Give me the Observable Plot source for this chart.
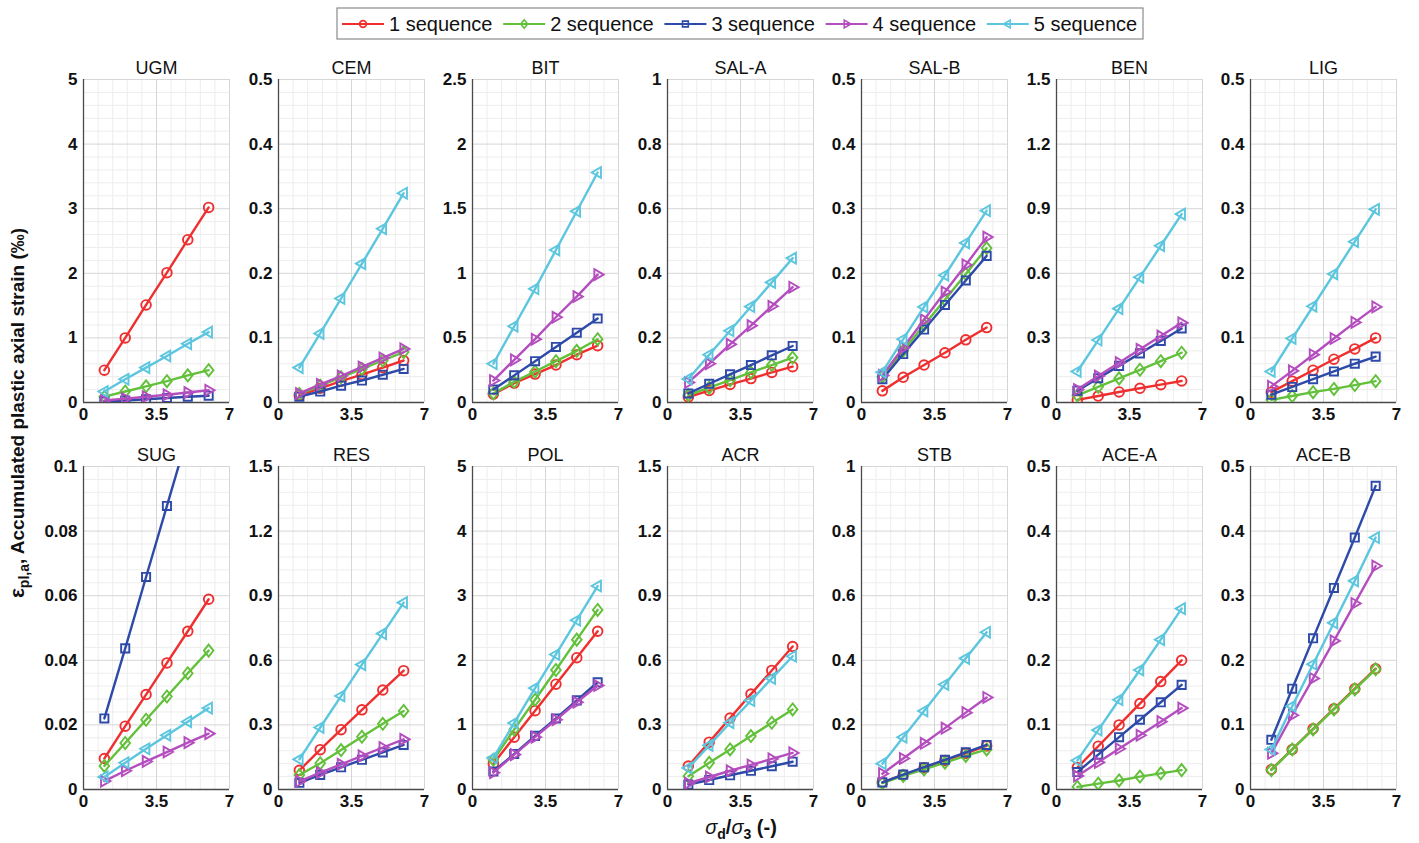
<!DOCTYPE html>
<html><head><meta charset="utf-8">
<script src="https://cdn.jsdelivr.net/npm/d3@7"></script>
<script src="https://cdn.jsdelivr.net/npm/@observablehq/plot@0.6"></script>
<style>
body{margin:0;background:#fff;}
#wrap{position:relative;width:1419px;height:843px;overflow:hidden;font-family:"Liberation Sans",Arial,sans-serif;}
.panel{position:absolute;}
.panel svg{overflow:visible;background:transparent;}
#overlay{position:absolute;left:0;top:0;pointer-events:none;}
</style></head><body><div id="wrap"></div>
<script>
// ---------- data ----------
const panelNames = ["UGM","CEM","BIT","SAL-A","SAL-B","BEN","LIG","SUG","RES","POL","ACR","STB","ACE-A","ACE-B"];
const seriesNames = ["1 sequence","2 sequence","3 sequence","4 sequence","5 sequence"];
const xValues = [1,2,3,4,5,6];
const xTickLabels = [0,3.5,7];
const yTickLabels = [
  [0,1,2,3,4,5],
  [0,0.1,0.2,0.3,0.4,0.5],
  [0,0.5,1,1.5,2,2.5],
  [0,0.2,0.4,0.6,0.8,1],
  [0,0.1,0.2,0.3,0.4,0.5],
  [0,0.3,0.6,0.9,1.2,1.5],
  [0,0.1,0.2,0.3,0.4,0.5],
  [0,0.02,0.04,0.06,0.08,0.1],
  [0,0.3,0.6,0.9,1.2,1.5],
  [0,1,2,3,4,5],
  [0,0.3,0.6,0.9,1.2,1.5],
  [0,0.2,0.4,0.6,0.8,1],
  [0,0.1,0.2,0.3,0.4,0.5],
  [0,0.1,0.2,0.3,0.4,0.5]
];
// each panel: [1 seq, 2 seq, 3 seq, 4 seq, 5 seq]
const UGM = [
  [0.50,1.00,1.51,2.01,2.52,3.02],
  [0.09,0.17,0.25,0.33,0.42,0.50],
  [0.015,0.03,0.05,0.07,0.09,0.105],
  [0.03,0.06,0.09,0.12,0.155,0.19],
  [0.17,0.36,0.54,0.72,0.91,1.09]
];
const CEM = [
  [0.011,0.022,0.033,0.043,0.054,0.065],
  [0.013,0.026,0.039,0.052,0.065,0.078],
  [0.009,0.017,0.026,0.034,0.043,0.052],
  [0.014,0.028,0.041,0.055,0.069,0.083],
  [0.054,0.107,0.161,0.215,0.269,0.324]
];
const BIT = [
  [0.065,0.15,0.22,0.29,0.37,0.44],
  [0.07,0.16,0.24,0.32,0.40,0.49],
  [0.10,0.21,0.32,0.43,0.54,0.65],
  [0.17,0.33,0.49,0.66,0.82,0.99],
  [0.30,0.59,0.88,1.18,1.48,1.78]
];
const SAL_A = [
  [0.017,0.037,0.056,0.074,0.093,0.111],
  [0.023,0.046,0.069,0.093,0.116,0.139],
  [0.028,0.058,0.087,0.116,0.146,0.175],
  [0.062,0.12,0.18,0.238,0.298,0.357],
  [0.073,0.148,0.222,0.297,0.372,0.447]
];
const SAL_B = [
  [0.018,0.039,0.058,0.077,0.097,0.116],
  [0.04,0.08,0.12,0.159,0.199,0.239],
  [0.036,0.075,0.113,0.151,0.189,0.227],
  [0.042,0.085,0.128,0.171,0.213,0.256],
  [0.047,0.098,0.148,0.197,0.247,0.297]
];
const BEN = [
  [0.012,0.03,0.049,0.066,0.083,0.10],
  [0.033,0.073,0.112,0.152,0.192,0.231],
  [0.055,0.113,0.17,0.228,0.286,0.344],
  [0.06,0.123,0.185,0.247,0.309,0.37],
  [0.144,0.29,0.436,0.582,0.728,0.875]
];
const LIG = [
  [0.016,0.033,0.05,0.067,0.083,0.10],
  [0.004,0.01,0.016,0.021,0.027,0.033],
  [0.012,0.024,0.036,0.048,0.06,0.071],
  [0.025,0.049,0.074,0.099,0.124,0.148],
  [0.048,0.099,0.149,0.199,0.249,0.299]
];
const SUG = [
  [0.0096,0.0196,0.0294,0.0392,0.049,0.0589],
  [0.0073,0.0144,0.0216,0.0288,0.036,0.043],
  [0.022,0.0437,0.0658,0.0878,0.1098,0.1318],
  [0.0026,0.0058,0.0087,0.0116,0.0145,0.0173],
  [0.0039,0.0083,0.0126,0.0168,0.021,0.0252]
];
const RES = [
  [0.089,0.185,0.278,0.37,0.462,0.552],
  [0.067,0.122,0.183,0.245,0.305,0.365],
  [0.031,0.068,0.103,0.138,0.172,0.207],
  [0.038,0.078,0.117,0.156,0.195,0.233],
  [0.14,0.288,0.434,0.58,0.724,0.868]
];
const POL = [
  [0.40,0.81,1.22,1.63,2.04,2.45],
  [0.46,0.93,1.39,1.85,2.32,2.78],
  [0.28,0.55,0.83,1.10,1.38,1.66],
  [0.26,0.54,0.81,1.08,1.35,1.61],
  [0.49,1.03,1.57,2.09,2.62,3.15]
];
const ACR = [
  [0.109,0.22,0.332,0.443,0.553,0.664],
  [0.062,0.124,0.186,0.248,0.31,0.372],
  [0.023,0.044,0.066,0.087,0.108,0.129],
  [0.029,0.058,0.087,0.114,0.142,0.17],
  [0.10,0.205,0.31,0.413,0.516,0.619]
];
const STB = [
  [0.022,0.045,0.067,0.09,0.112,0.135],
  [0.02,0.042,0.062,0.083,0.104,0.124],
  [0.022,0.046,0.069,0.092,0.115,0.138],
  [0.049,0.096,0.143,0.19,0.238,0.285],
  [0.08,0.162,0.243,0.325,0.406,0.487]
];
const ACE_A = [
  [0.034,0.067,0.10,0.133,0.167,0.20],
  [0.004,0.009,0.014,0.02,0.025,0.03],
  [0.027,0.054,0.081,0.108,0.135,0.162],
  [0.021,0.042,0.063,0.084,0.105,0.126],
  [0.045,0.092,0.139,0.185,0.232,0.28]
];
const ACE_B = [
  [0.031,0.062,0.094,0.125,0.156,0.187],
  [0.03,0.062,0.093,0.124,0.155,0.186],
  [0.077,0.156,0.234,0.312,0.39,0.47],
  [0.056,0.115,0.172,0.23,0.288,0.346],
  [0.062,0.129,0.194,0.258,0.323,0.39]
];
const panelValues = [UGM,CEM,BIT,SAL_A,SAL_B,BEN,LIG,SUG,RES,POL,ACR,STB,ACE_A,ACE_B];

// ---------- styles ----------
const colors = ["#ef2f2f","#62c03a","#2d4aa8","#b44dbe","#5cc6df"];
function rOf(size){ return Math.sqrt(size/Math.PI); }
const symCircle = {draw(c,s){const r=rOf(s); c.moveTo(r,0); c.arc(0,0,r,0,2*Math.PI); c.closePath();}};
const symDiamond = {draw(c,s){const r=rOf(s)*1.25; c.moveTo(0,-r); c.lineTo(r*0.8,0); c.lineTo(0,r); c.lineTo(-r*0.8,0); c.closePath();}};
const symSquare = {draw(c,s){const r=rOf(s)*0.85; c.moveTo(-r,-r); c.lineTo(r,-r); c.lineTo(r,r); c.lineTo(-r,r); c.closePath();}};
const symRight = {draw(c,s){const r=rOf(s)*1.25; c.moveTo(r,0); c.lineTo(-r*0.55,r*0.9); c.lineTo(-r*0.55,-r*0.9); c.closePath();}};
const symLeft = {draw(c,s){const r=rOf(s)*1.25; c.moveTo(-r,0); c.lineTo(r*0.55,r*0.9); c.lineTo(r*0.55,-r*0.9); c.closePath();}};
const symbols = [symCircle,symDiamond,symSquare,symRight,symLeft];

const wrap = document.getElementById("wrap");
const frameW = 146, frameH = 323;
const mL = 50, mR = 12, mT = 30, mB = 26;

function minorOf(ticks, n){
  const out = [];
  for (let i=0;i<ticks.length-1;i++){
    const a=ticks[i], b=ticks[i+1];
    for (let k=1;k<n;k++) out.push(a+(b-a)*k/n);
  }
  return out;
}

panelNames.forEach((name, p) => {
  const col = p % 7, row = Math.floor(p / 7);
  const left = 83 + col*194.5 - mL;
  const top = (row === 0 ? 79 : 466) - mT;
  const yt = yTickLabels[p];
  const rows = [];
  panelValues[p].forEach((vals, s) => vals.forEach((v, i) => rows.push({x: xValues[i], y: v, s})));
  const marks = [
    Plot.ruleX(minorOf(xTickLabels,5), {stroke:"#ededed", strokeWidth:1}),
    Plot.ruleY(minorOf(yt,5), {stroke:"#ededed", strokeWidth:1}),
    Plot.ruleX(xTickLabels, {stroke:"#d6d6d6", strokeWidth:1}),
    Plot.ruleY(yt, {stroke:"#d6d6d6", strokeWidth:1}),
    Plot.ruleX([0], {stroke:"#4a4a4a", strokeWidth:1.3}),
    Plot.ruleY([0], {stroke:"#4a4a4a", strokeWidth:1.3}),
    // tick labels drawn through the scales
    Plot.text(xTickLabels, {x: d => d, y: 0, text: d => String(d), lineAnchor: "top", dy: 5, fontSize: 17, fontWeight: "bold", fill: "#111"}),
    Plot.text(yt, {x: 0, y: d => d, text: d => String(d), textAnchor: "end", dx: -6, fontSize: 17, fontWeight: "bold", fill: "#111"})
  ];
  for (let s = 0; s < 5; s++) {
    const d = rows.filter(r => r.s === s);
    marks.push(Plot.line(d, {x:"x", y:"y", stroke: colors[s], strokeWidth: 2.4, clip: true}));
    marks.push(Plot.dot(d, {x:"x", y:"y", symbol: symbols[s], r: 4.8, stroke: colors[s], strokeWidth: 1.9, fill: "none", clip: true}));
  }
  marks.push(Plot.text([name], {text: d => d, frameAnchor: "top", lineAnchor: "bottom", dy: -6, fontSize: 18, fontWeight: "normal", fill: "#111"}));
  const chart = Plot.plot({
    width: mL + frameW + mR, height: mT + frameH + mB,
    marginLeft: mL, marginRight: mR, marginTop: mT, marginBottom: mB,
    x: {domain: [0,7], axis: null},
    y: {domain: [0, yt[yt.length-1]], axis: null},
    style: {fontFamily: '"Liberation Sans", Arial, sans-serif', background: "transparent", overflow: "visible"},
    marks
  });
  const div = document.createElement("div");
  div.className = "panel";
  div.style.left = left + "px";
  div.style.top = top + "px";
  div.appendChild(chart);
  wrap.appendChild(div);
});

// ---------- overlay: legend and axis titles ----------
const svg = d3.select(wrap).append("svg").attr("id","overlay").attr("width",1419).attr("height",843)
  .style("font-family",'"Liberation Sans", Arial, sans-serif');
svg.append("rect").attr("x",337).attr("y",8).attr("width",806).attr("height",31)
  .attr("fill","#fff").attr("stroke","#8a8a8a").attr("stroke-width",1.2);
seriesNames.forEach((n, s) => {
  const x0 = 342 + s*161.2, y0 = 24;
  svg.append("line").attr("x1",x0).attr("x2",x0+42).attr("y1",y0).attr("y2",y0)
    .attr("stroke",colors[s]).attr("stroke-width",2.2);
  svg.append("path").attr("d", d3.symbol(symbols[s], Math.PI*3.4*3.4)()).attr("transform",`translate(${x0+21},${y0})`)
    .attr("fill","none").attr("stroke",colors[s]).attr("stroke-width",1.6);
  svg.append("text").attr("x",x0+47).attr("y",y0).attr("dy","0.36em").attr("font-size",20).attr("fill","#111").text(n);
});
// y title
const yt = svg.append("text").attr("transform","translate(24,413) rotate(-90)").attr("text-anchor","middle")
  .attr("font-size",19).attr("font-weight","bold").attr("fill","#111");
yt.append("tspan").attr("font-size",21).text("ε");
yt.append("tspan").attr("font-size",14).attr("dy",5).text("pl,a");
yt.append("tspan").attr("dy",-5).text(", Accumulated plastic axial strain (‰)");
// x title
const xt = svg.append("text").attr("x",741).attr("y",834).attr("text-anchor","middle")
  .attr("font-size",20).attr("font-weight","bold").attr("fill","#111");
xt.append("tspan").attr("font-style","italic").attr("font-weight","normal").text("σ");
xt.append("tspan").attr("font-size",14).attr("dy",5).text("d");
xt.append("tspan").attr("dy",-5).text("/");
xt.append("tspan").attr("font-style","italic").attr("font-weight","normal").text("σ");
xt.append("tspan").attr("font-size",14).attr("dy",5).text("3");
xt.append("tspan").attr("dy",-5).text(" (-)");
</script></body></html>
